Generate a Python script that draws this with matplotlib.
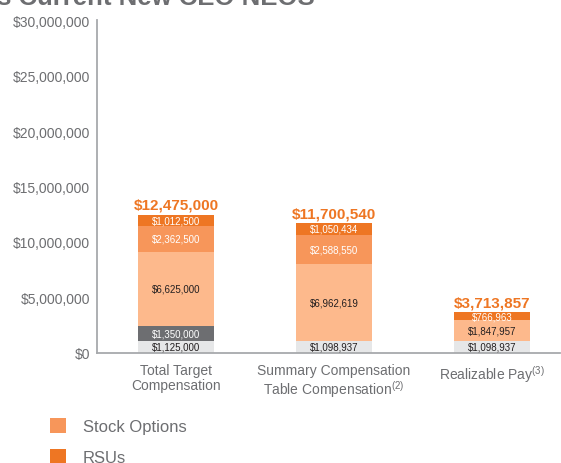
import matplotlib
matplotlib.use("Agg")
import matplotlib.pyplot as plt
from matplotlib.patches import Patch
import numpy as np

plt.rcParams['font.family'] = ['Liberation Sans', 'DejaVu Sans']
plt.rcParams['mathtext.fontset'] = 'custom'
plt.rcParams['mathtext.rm'] = 'Liberation Sans'
plt.rcParams['mathtext.it'] = 'Liberation Sans'

categories = ["Total Target\nCompensation",
              "Summary Compensation\nTable Compensation$^{\\mathrm{(2)}}$",
              "Realizable Pay$^{\\mathrm{(3)}}$"]
base_salary = [1125000, 1098937, 1098937]
bonus = [1350000, 0, 0]
perf_award = [6625000, 6962619, 1847957]
stock_options = [2362500, 2588550, 0]
rsus = [1012500, 1050434, 766963]
totals = ["$12,475,000", "$11,700,540", "$3,713,857"]
yticks = [0, 5000000, 10000000, 15000000, 20000000, 25000000, 30000000]
ytick_labels = ["$0", "$5,000,000", "$10,000,000", "$15,000,000",
                "$20,000,000", "$25,000,000", "$30,000,000"]

series = [
    (base_salary, "#e6e7e8", "#231f20", "Base Salary"),
    (bonus, "#6d6e71", "white", "Bonus"),
    (perf_award, "#fdb98c", "#231f20", "Performance"),
    (stock_options, "#f7965a", "white", "Stock Options"),
    (rsus, "#ee7623", "white", "RSUs"),
]

fig = plt.figure(figsize=(5.61, 4.64), dpi=100)
ax = fig.add_axes([97/561, 1-354/464, 463/561, 333/464])

x = np.arange(len(categories))
width = 0.48
bottom = np.zeros(len(categories))
for vals, color, tcol, name in series:
    vals = np.array(vals, dtype=float)
    ax.bar(x, vals, width, bottom=bottom, color=color, edgecolor='none')
    for i, v in enumerate(vals):
        if v > 0:
            ax.text(x[i], bottom[i] + v/2, "${:,.0f}".format(v), ha='center', va='center',
                    fontsize=7, color=tcol)
    bottom += vals

for i, t in enumerate(totals):
    ax.text(x[i], bottom[i] + 250000, t, ha='center', va='bottom', fontsize=11,
            fontweight='bold', color='#ee7623')

ax.set_xlim(-0.5, 2.43)
ax.set_ylim(0, 30000000)
ax.set_yticks(yticks)
ax.set_yticklabels(ytick_labels)
ax.set_xticks(x)
ax.set_xticklabels(categories, linespacing=1.12, va='top')
ax.tick_params(axis='y', length=0, pad=5, labelsize=10, labelcolor='#6d6e71')
ax.tick_params(axis='x', length=0, pad=7, labelsize=10, labelcolor='#6d6e71')
for s in ['top', 'right']:
    ax.spines[s].set_visible(False)
for s in ['left', 'bottom']:
    ax.spines[s].set_color('#a7a9ac')
    ax.spines[s].set_linewidth(1.3)

fig.text(-0.006, 1 - 5/464, "s Current New CEO NEOS", fontsize=18.5, fontweight='bold',
         color='#6d6e71', ha='left', va='baseline')

handles = [Patch(facecolor="#f7965a", edgecolor='none', label="Stock Options"),
           Patch(facecolor="#ee7623", edgecolor='none', label="RSUs")]
fig.legend(handles=handles, loc='upper left', bbox_to_anchor=(43/561, 1-412/464),
           frameon=False, fontsize=12, labelcolor='#6d6e71', handlelength=1.0,
           handleheight=1.0, handletextpad=1.0, labelspacing=0.9, borderaxespad=0)

fig.savefig("out.png", dpi=100)
